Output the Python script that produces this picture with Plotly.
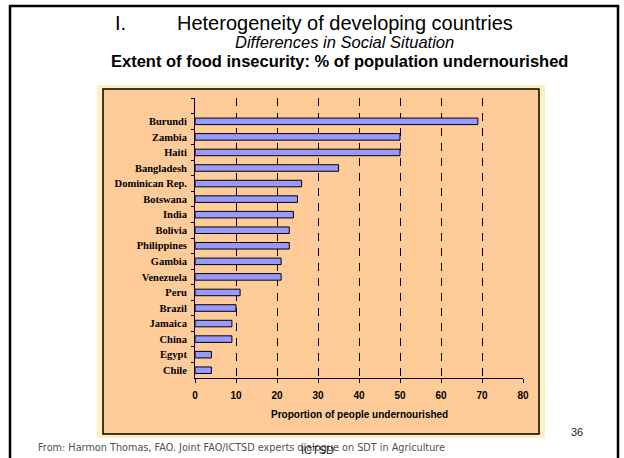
import plotly.graph_objects as go

countries = ["Burundi", "Zambia", "Haiti", "Bangladesh", "Dominican Rep.", "Botswana",
             "India", "Bolivia", "Philippines", "Gambia", "Venezuela", "Peru", "Brazil",
             "Jamaica", "China", "Egypt", "Chile"]
undernourished = [69, 50, 50, 35, 26, 25, 24, 23, 23, 21, 21, 11, 10, 9, 9, 4, 4]
x_ticks = [0, 10, 20, 30, 40, 50, 60, 70, 80]

W, H = 624, 458
def X(px):
    return px / W
def Y(py):
    return 1 - py / H

fig = go.Figure()
fig.add_trace(go.Bar(
    x=undernourished, y=countries, orientation="h", width=0.42,
    marker=dict(color="#9999FF", line=dict(color="black", width=1)),
    showlegend=False, hoverinfo="x+y",
))

cat_order = [" "] + countries

fig.update_layout(
    width=W, height=H, autosize=False,
    margin=dict(l=0, r=0, t=0, b=0),
    paper_bgcolor="white", plot_bgcolor="rgba(0,0,0,0)",
    xaxis=dict(
        domain=[X(195), X(523)], range=[0, 80], tickvals=x_ticks,
        showgrid=True, gridcolor="black", gridwidth=1, griddash="8px,7px",
        zeroline=False, showline=True, linecolor="black", linewidth=1,
        ticks="outside", ticklen=4, tickcolor="black", ticklabelstandoff=4,
        tickfont=dict(family="Liberation Sans", size=10, color="black", weight="bold"),
        automargin=False, fixedrange=True,
    ),
    yaxis=dict(
        domain=[Y(378), Y(98)], type="category", categoryorder="array",
        categoryarray=cat_order, range=[16.5 + 1, -0.5],
        showgrid=False, zeroline=False, showline=True, linecolor="black", linewidth=1,
        ticks="outside", ticklen=3, tickcolor="black", tickson="boundaries",
        ticklabelstandoff=5,
        tickfont=dict(family="Liberation Serif", size=10.5, color="black", weight="bold"),
        automargin=False, fixedrange=True,
    ),
)

shapes = [
    dict(type="rect", xref="paper", yref="paper", x0=X(10), x1=X(618), y0=Y(6), y1=Y(480),
         line=dict(color="black", width=2.5), fillcolor="rgba(0,0,0,0)", layer="below"),
    dict(type="rect", xref="paper", yref="paper", x0=X(97), x1=X(545), y0=Y(85), y1=Y(438),
         line=dict(width=0), fillcolor="#FFF0C2", layer="below"),
    dict(type="rect", xref="paper", yref="paper", x0=X(103), x1=X(539), y0=Y(89), y1=Y(434),
         line=dict(color="black", width=1.5), fillcolor="#FFCC99", layer="below"),
]
fig.update_layout(shapes=shapes)

def ann(text, px, py, size, family="Liberation Sans", color="black", xanchor="left", **font_kw):
    return dict(text=text, x=X(px), y=Y(py), xref="paper", yref="paper", showarrow=False,
                xanchor=xanchor, yanchor="middle",
                font=dict(family=family, size=size, color=color, **font_kw))

annotations = [
    ann("I.", 113, 23, 20),
    ann("Heterogeneity of developing countries", 175, 23, 20),
    ann("Differences in Social Situation", 233, 42, 16.5, style="italic"),
    ann("Extent of food insecurity: % of population undernourished", 109, 61, 16.5, weight="bold"),
    ann("Proportion of people undernourished", 359, 414, 10, xanchor="center", weight="bold"),
    ann("From: Harmon Thomas, FAO. Joint FAO/ICTSD experts dialogue on SDT in Agriculture",
        36, 447, 9.7, family="DejaVu Sans", color="#505050"),
    ann("ICTSD", 299, 450, 11, color="#222222"),
    ann("36", 577, 432, 11, xanchor="center", color="#222222"),
]
fig.update_layout(annotations=annotations)

fig.write_html("out.html", config={"displayModeBar": False},
               post_script="document.body.style.margin='0';document.body.style.overflow='hidden';")
